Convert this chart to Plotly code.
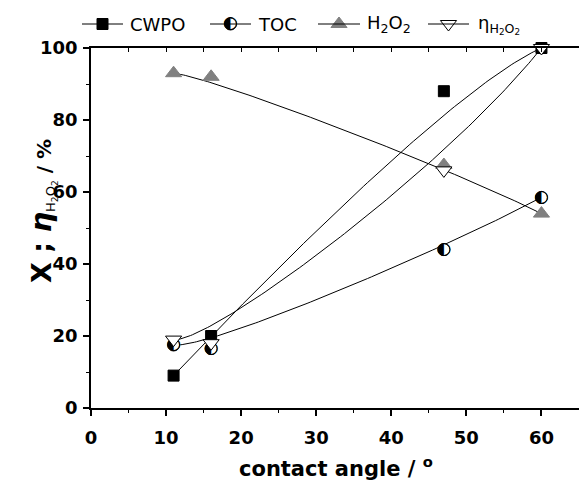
import numpy as np
import plotly.graph_objects as go
from math import comb

# ---- data ----
angle = [11, 16, 47, 60]
cwpo = [9, 20, 88, 100]
toc = [17.5, 16.5, 44, 58.5]
h2o2 = [93, 92, 67.5, 54]
eta = [19, 18, 66, 100]

x_ticks = [0, 10, 20, 30, 40, 50, 60]
y_ticks = [0, 20, 40, 60, 80, 100]

legend_names = ["CWPO", "TOC", "H<sub>2</sub>O<sub>2</sub>", "η<sub>H<sub>2</sub>O<sub>2</sub></sub>"]

FONT = "DejaVu Sans"
W, H = 579, 488
L, B = 91, 80
PH = H - B            # plotting region height (t = 0)
PW = W - L


def px_x(px):
    return (px - L) / PW


def px_y(py):
    return (PH - py) / PH


def bspline(xs, ys, n=120):
    """Bezier / clamped B-spline connection with the data points as control points."""
    xs = np.asarray(xs, float)
    ys = np.asarray(ys, float)
    k = len(xs) - 1
    t = np.linspace(0, 1, n)
    bx = np.zeros(n)
    by = np.zeros(n)
    for i in range(k + 1):
        b = comb(k, i) * t ** i * (1 - t) ** (k - i)
        bx += b * xs[i]
        by += b * ys[i]
    return bx, by


styles = [
    dict(symbol="square", size=11, color="black", line=dict(color="black", width=1)),
    dict(symbol="circle", size=12, color="white", line=dict(color="black", width=1)),
    dict(symbol="triangle-up", size=14, color="#808080", line=dict(color="#808080", width=1)),
    dict(symbol="triangle-down", size=14, color="white", line=dict(color="black", width=1)),
]
series = [cwpo, toc, h2o2, eta]

fig = go.Figure()

# curves
for ys in series:
    cx, cy = bspline(angle, ys)
    fig.add_trace(go.Scatter(x=cx, y=cy, mode="lines", line=dict(color="black", width=1),
                             showlegend=False, hoverinfo="skip"))

# markers
for i, ys in enumerate(series):
    fig.add_trace(go.Scatter(x=angle, y=ys, mode="markers", showlegend=False, cliponaxis=False,
                             marker=styles[i]))
    if i == 1:
        fig.add_trace(go.Scatter(x=angle, y=ys, mode="text", text=["◐"] * len(angle),
                                 showlegend=False, cliponaxis=False, textposition="middle center",
                                 textfont=dict(family=FONT, size=17, color="black")))

# ---- manual legend (top strip) ----
leg_line = [(82, 123), (210, 251), (318, 360), (428, 469)]
leg_text_x = [128, 256, 365, 476]
leg_y = 24
for i, name in enumerate(legend_names):
    x0, x1 = leg_line[i]
    fig.add_shape(type="line", xref="paper", yref="paper", x0=px_x(x0), x1=px_x(x1),
                  y0=px_y(leg_y), y1=px_y(leg_y), line=dict(color="black", width=1))
    xm = (x0 + x1) / 2
    fig.add_trace(go.Scatter(x=[xm], y=[0.5], xaxis="x3", yaxis="y3", mode="markers",
                             marker=styles[i], showlegend=False, cliponaxis=False))
    if i == 1:
        fig.add_trace(go.Scatter(x=[xm], y=[0.5], xaxis="x3", yaxis="y3", mode="text", text=["◐"],
                                 showlegend=False, cliponaxis=False, textposition="middle center",
                                 textfont=dict(family=FONT, size=17, color="black")))
    fig.add_annotation(xref="paper", yref="paper", x=px_x(leg_text_x[i]), y=px_y(leg_y),
                       xanchor="left", yanchor="middle", showarrow=False, text=name,
                       font=dict(family=FONT, size=18, color="black"))

main_top = px_y(48)
fig.update_layout(
    width=W, height=H,
    margin=dict(l=L, r=0, t=0, b=B, pad=0, autoexpand=False),
    paper_bgcolor="white", plot_bgcolor="white",
    font=dict(family=FONT, color="black"),
    showlegend=False,
    xaxis=dict(range=[0, 65], tickvals=x_ticks, showline=True, linecolor="black", linewidth=1.5,
               anchor="y", domain=[0, 1], automargin=False, ticklabelstandoff=7,
               ticks="outside", ticklen=6, tickwidth=1.5, tickcolor="black",
               minor=dict(dtick=5, tick0=0, ticks="outside", ticklen=3, tickwidth=1, tickcolor="black"),
               showgrid=False, zeroline=False,
               tickfont=dict(family=FONT, size=18, color="black", weight="bold")),
    xaxis2=dict(range=[0, 65], overlaying="x", anchor="y", side="top", showline=True,
                linecolor="black", linewidth=1.5, ticks="inside", ticklen=4, tickwidth=1,
                automargin=False,
                tickcolor="black", tickvals=[5 * i for i in range(13)], showticklabels=False,
                showgrid=False, zeroline=False),
    yaxis=dict(range=[0, 100], domain=[0, main_top], tickvals=y_ticks, showline=True,
               linecolor="black", linewidth=1.5, anchor="x", automargin=False,
               ticks="outside", ticklen=6, tickwidth=1.5, tickcolor="black",
               minor=dict(dtick=10, tick0=0, ticks="outside", ticklen=3, tickwidth=1, tickcolor="black"),
               showgrid=False, zeroline=False, ticklabelstandoff=2,
               tickfont=dict(family=FONT, size=18, color="black", weight="bold")),
    xaxis3=dict(range=[L, W], domain=[0, 1], anchor="y3", visible=False, automargin=False),
    yaxis3=dict(range=[0, 1], domain=[px_y(leg_y + 10), px_y(leg_y - 10)], anchor="x3",
                visible=False, automargin=False),
)
fig.add_trace(go.Scatter(x=[None], y=[None], xaxis="x2", yaxis="y", showlegend=False))

# x axis title
fig.add_annotation(
    xref="paper", yref="paper", x=px_x(336), y=px_y(467), xanchor="center", yanchor="middle",
    showarrow=False, text="<b>contact angle / <sup>o</sup></b>",
    font=dict(family=FONT, size=21, color="black"),
)

# y axis title
fig.add_annotation(
    xref="paper", yref="paper", x=px_x(42), y=px_y(211), xanchor="center", yanchor="middle",
    textangle=-90, showarrow=False,
    text=("<b><span style='font-size:27px'>X ; </span></b>"
          "<b><i><span style='font-size:29px'>η</span></i></b>"
          "<sub><span style='font-size:13px'>H<sub>2</sub>O<sub>2</sub></span></sub>"
          "<b><span style='font-size:20px'> / %</span></b>"),
    font=dict(family=FONT, size=20, color="black"),
)

fig.write_html("out.html")
